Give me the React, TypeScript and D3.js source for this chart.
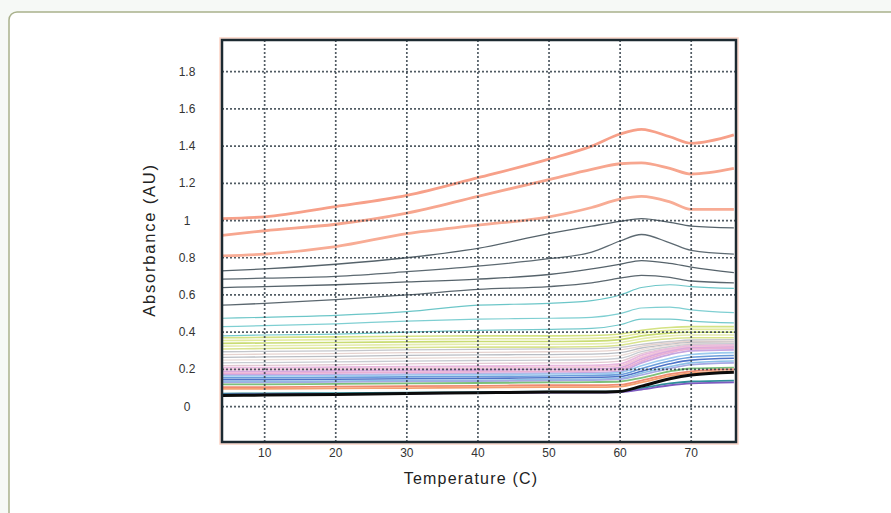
import React from "react";
import * as d3 from "d3";

// temperatures (C) at which each curve is sampled
const temps = [4, 10, 20, 30, 40, 50, 56, 60, 63, 67, 70, 76];

const orangeSeries = [
  [1.01, 1.02, 1.075, 1.135, 1.23, 1.33, 1.4, 1.465, 1.49, 1.45, 1.415, 1.46],
  [0.92, 0.945, 0.98, 1.04, 1.13, 1.22, 1.275, 1.305, 1.31, 1.28, 1.25, 1.28],
  [0.81, 0.82, 0.86, 0.93, 0.975, 1.02, 1.07, 1.115, 1.13, 1.1, 1.06, 1.06],
];

const graySeries = [
  [0.73, 0.74, 0.765, 0.8, 0.85, 0.93, 0.97, 0.995, 1.01, 0.99, 0.97, 0.96],
  [0.685, 0.69, 0.7, 0.725, 0.755, 0.795, 0.83, 0.89, 0.925, 0.88, 0.84, 0.82],
  [0.64, 0.645, 0.655, 0.67, 0.685, 0.71, 0.74, 0.765, 0.785, 0.77, 0.75, 0.72],
  [0.545, 0.555, 0.575, 0.6, 0.63, 0.645, 0.665, 0.69, 0.705, 0.695, 0.675, 0.665],
];

const tealSeries = [
  [0.475, 0.48, 0.49, 0.51, 0.545, 0.555, 0.57, 0.6, 0.64, 0.655, 0.645, 0.635],
  [0.43, 0.435, 0.445, 0.46, 0.47, 0.475, 0.48, 0.5, 0.53, 0.535, 0.52, 0.505],
  [0.38, 0.385, 0.39, 0.4, 0.41, 0.415, 0.42, 0.44, 0.47, 0.47, 0.46, 0.45],
];

const yellowSeries = [
  [0.37, 0.372, 0.375, 0.378, 0.38, 0.38, 0.382, 0.39, 0.41, 0.425, 0.43, 0.43],
  [0.355, 0.357, 0.36, 0.362, 0.365, 0.365, 0.367, 0.375, 0.395, 0.41, 0.415, 0.415],
  [0.34, 0.342, 0.345, 0.348, 0.35, 0.35, 0.352, 0.36, 0.38, 0.395, 0.4, 0.4],
  [0.325, 0.327, 0.33, 0.333, 0.335, 0.335, 0.337, 0.345, 0.365, 0.38, 0.385, 0.385],
  [0.31, 0.312, 0.315, 0.318, 0.32, 0.32, 0.322, 0.33, 0.35, 0.365, 0.37, 0.37],
];

const lightSeries = [
  [0.295, 0.297, 0.3, 0.305, 0.308, 0.31, 0.312, 0.318, 0.335, 0.35, 0.358, 0.36],
  [0.28, 0.282, 0.285, 0.29, 0.292, 0.295, 0.297, 0.305, 0.325, 0.342, 0.35, 0.352],
  [0.265, 0.267, 0.27, 0.275, 0.278, 0.28, 0.282, 0.29, 0.315, 0.335, 0.345, 0.347],
  [0.25, 0.252, 0.255, 0.26, 0.263, 0.265, 0.267, 0.275, 0.305, 0.33, 0.34, 0.342],
  [0.235, 0.237, 0.24, 0.245, 0.248, 0.25, 0.252, 0.26, 0.295, 0.322, 0.335, 0.338],
  [0.22, 0.222, 0.225, 0.23, 0.232, 0.235, 0.237, 0.245, 0.285, 0.315, 0.33, 0.333],
];

const pinkSeries = [
  [0.21, 0.21, 0.212, 0.215, 0.217, 0.22, 0.222, 0.23, 0.275, 0.31, 0.325, 0.33],
  [0.2, 0.2, 0.202, 0.205, 0.207, 0.21, 0.212, 0.22, 0.265, 0.305, 0.32, 0.325],
  [0.19, 0.19, 0.192, 0.195, 0.197, 0.2, 0.202, 0.21, 0.255, 0.298, 0.315, 0.32],
  [0.18, 0.18, 0.182, 0.185, 0.187, 0.19, 0.192, 0.2, 0.245, 0.29, 0.31, 0.315],
  [0.17, 0.17, 0.172, 0.175, 0.177, 0.18, 0.182, 0.19, 0.235, 0.28, 0.3, 0.305],
];

const blueSeries = [
  [0.165, 0.165, 0.167, 0.17, 0.172, 0.175, 0.177, 0.183, 0.22, 0.26, 0.28, 0.29],
  [0.155, 0.155, 0.157, 0.16, 0.162, 0.165, 0.167, 0.172, 0.205, 0.245, 0.265, 0.275],
  [0.145, 0.145, 0.147, 0.15, 0.152, 0.155, 0.157, 0.162, 0.19, 0.23, 0.25, 0.26],
  [0.135, 0.135, 0.137, 0.14, 0.142, 0.145, 0.147, 0.152, 0.18, 0.215, 0.235, 0.245],
  [0.13, 0.13, 0.132, 0.135, 0.137, 0.14, 0.142, 0.147, 0.17, 0.205, 0.225, 0.235],
];

const lowSeries = [
  [0.12, 0.12, 0.122, 0.125, 0.127, 0.13, 0.132, 0.135, 0.155, 0.19, 0.205, 0.21],
  [0.105, 0.105, 0.108, 0.11, 0.112, 0.115, 0.115, 0.118, 0.14, 0.175, 0.19, 0.2],
  [0.095, 0.095, 0.098, 0.1, 0.102, 0.105, 0.105, 0.108, 0.13, 0.165, 0.18, 0.19],
  [0.07, 0.071, 0.073, 0.075, 0.078, 0.08, 0.08, 0.082, 0.1, 0.125, 0.135, 0.14],
  [0.065, 0.066, 0.068, 0.07, 0.073, 0.075, 0.075, 0.078, 0.092, 0.115, 0.125, 0.13],
];

const blackSeries = [0.06, 0.062, 0.065, 0.07, 0.075, 0.078, 0.078, 0.082, 0.11, 0.15, 0.17, 0.185];

const orangeColors = ["#f7a089", "#f7a68f", "#f8ac95"];
const grayColors = ["#56636b", "#5d6a72", "#56636b", "#5b676f"];
const tealColors = ["#6cc6c8", "#7fcfd2", "#74c9cc"];
const yellowColors = ["#d4e283", "#e2ea9c", "#c9dc72", "#e5ecae", "#d9e48e"];
const lightColors = ["#c4c6cc", "#e6d3cf", "#b9bdc4", "#eadcd8", "#c8ccd2", "#e2c9d2"];
const pinkColors = ["#e9b9e0", "#f1c4d8", "#d9a9dd", "#eab0d4", "#c7a6e0"];
const blueColors = ["#9ccbee", "#6c9edc", "#4f74c8", "#8cc0e6", "#a6a8e4"];
const lowColors = ["#7cc07a", "#f08a72", "#f4a070", "#2f8f9a", "#7d5bc0"];

const yTicks = [0, 0.2, 0.4, 0.6, 0.8, 1, 1.2, 1.4, 1.6, 1.8];
const xTicks = [10, 20, 30, 40, 50, 60, 70];

const W = 891;
const H = 513;
const plot = { left: 222, right: 736, top: 40, bottom: 442 };

export default function App() {
  const x = d3.scaleLinear().domain([4, 76.3]).range([plot.left, plot.right]);
  const y = d3.scaleLinear().domain([-0.19, 1.97]).range([plot.bottom, plot.top]);

  const line = d3
    .line<number>()
    .x((_, i) => x(temps[i]))
    .y((d) => y(d))
    .curve(d3.curveMonotoneX);

  const groups: { data: number[][]; colors: string[]; width: number }[] = [
    { data: lightSeries, colors: lightColors, width: 1.3 },
    { data: yellowSeries, colors: yellowColors, width: 1.6 },
    { data: pinkSeries, colors: pinkColors, width: 1.8 },
    { data: blueSeries, colors: blueColors, width: 1.6 },
    { data: lowSeries, colors: lowColors, width: 1.8 },
    { data: tealSeries, colors: tealColors, width: 1.2 },
    { data: graySeries, colors: grayColors, width: 1.3 },
    { data: orangeSeries, colors: orangeColors, width: 2.8 },
  ];

  const font = "'Liberation Sans', Arial, sans-serif";
  const tickFont = "'Liberation Sans Narrow', 'Liberation Sans', Arial, sans-serif";

  return (
    <svg
      width={W}
      height={H}
      style={{ position: "absolute", left: 0, top: 0, background: "#f6f9f6" }}
    >
      <rect x={9} y={12} width={W + 20} height={H + 20} rx={8} fill="#fff" stroke="#a9b18c" strokeWidth={1.5} />

      <defs>
        <clipPath id="plotClip">
          <rect x={plot.left} y={plot.top} width={plot.right - plot.left} height={plot.bottom - plot.top} />
        </clipPath>
      </defs>

      {/* faint orange halo around the frame */}
      <rect
        x={plot.left - 2}
        y={plot.top - 2}
        width={plot.right - plot.left + 4}
        height={plot.bottom - plot.top + 4}
        fill="none"
        stroke="#fbd3c5"
        strokeWidth={1.5}
      />

      <g clipPath="url(#plotClip)">
        {groups.map((g, gi) =>
          g.data.map((s, i) => (
            <path
              key={`${gi}-${i}`}
              d={line(s) || ""}
              fill="none"
              stroke={g.colors[i % g.colors.length]}
              strokeWidth={g.width}
            />
          ))
        )}
        <path d={line(blackSeries) || ""} fill="none" stroke="#0b0b0b" strokeWidth={3} />

        {/* dotted grid */}
        {xTicks.map((t) => (
          <line
            key={`gx${t}`}
            x1={x(t)}
            x2={x(t)}
            y1={plot.top}
            y2={plot.bottom}
            stroke="#34404a"
            strokeWidth={1.7}
            strokeDasharray="2,2"
            opacity={0.85}
          />
        ))}
        {yTicks.map((t) => (
          <line
            key={`gy${t}`}
            x1={plot.left}
            x2={plot.right}
            y1={y(t)}
            y2={y(t)}
            stroke="#34404a"
            strokeWidth={1.7}
            strokeDasharray="2,2"
            opacity={0.85}
          />
        ))}
      </g>

      <rect
        x={plot.left}
        y={plot.top}
        width={plot.right - plot.left}
        height={plot.bottom - plot.top}
        fill="none"
        stroke="#1c2a31"
        strokeWidth={2.5}
      />

      {yTicks.map((t) => (
        <text
          key={`yl${t}`}
          x={187}
          y={y(t) + 4}
          textAnchor="middle"
          fontFamily={tickFont}
          fontSize={12}
          fill="#333"
        >
          {d3.format("~g")(t)}
        </text>
      ))}
      {xTicks.map((t) => (
        <text
          key={`xl${t}`}
          x={x(t)}
          y={457}
          textAnchor="middle"
          fontFamily={tickFont}
          fontSize={12}
          fill="#333"
        >
          {t}
        </text>
      ))}

      <text
        x={471}
        y={484}
        textAnchor="middle"
        fontFamily={font}
        fontSize={16}
        letterSpacing={1.2}
        fill="#222"
      >
        Temperature (C)
      </text>
      <text
        transform={`translate(155,240) rotate(-90)`}
        textAnchor="middle"
        fontFamily={font}
        fontSize={16.5}
        letterSpacing={1.8}
        fill="#222"
      >
        Absorbance (AU)
      </text>
    </svg>
  );
}
